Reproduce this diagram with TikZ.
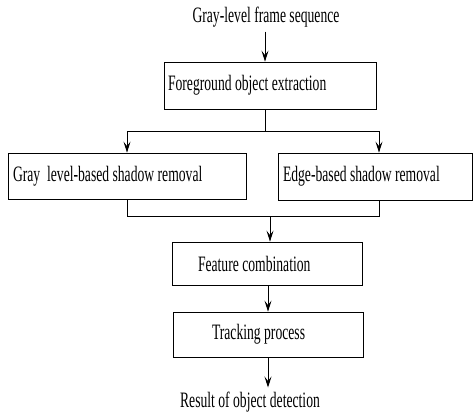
\documentclass[tikz,border=0pt]{standalone}
\usepackage{fontspec}
\setmainfont{Liberation Serif}[FakeStretch=0.62]
\usetikzlibrary{arrows.meta}
\begin{document}
\begin{tikzpicture}[x=1pt,y=-1pt,line width=0.8pt,
	font=\fontsize{22}{25}\selectfont,
	box/.style={draw,rectangle,align=flush left,inner ysep=0pt},
	lbl/.style={inner sep=4pt},
	arr/.style={-{Stealth[length=11pt,width=7pt,inset=4.5pt]}}]
	\useasboundingbox (0,0) rectangle (473,414);
	% input and output
	\node[lbl] (src) at (266,17) {Gray-level frame sequence};
	\node[lbl] (res) at (250,402) {Result of object detection};
	% processing steps
	\node[box,text width=204pt,inner xsep=4pt,minimum height=47pt] (fg) at (270,85.5) {Foreground object extraction};
	\node[box,text width=228pt,inner xsep=5pt,minimum height=46pt] (gray) at (127,176) {Gray~ level-based shadow removal};
	\node[box,text width=184pt,inner xsep=5pt,minimum height=47pt] (edge) at (375,176.5) {Edge-based shadow removal};
	\node[box,text width=138pt,inner xsep=26pt,minimum height=43pt] (feat) at (267,263.5) {Feature combination};
	\node[box,text width=112pt,inner xsep=39pt,minimum height=45pt] (track) at (268,334.5) {Tracking process};
	% branch and merge points
	\coordinate (split) at (265,131);
	\coordinate (join) at (270,216);
	\draw[arr] (src.south -| split) -- (fg.north -| split);
	\draw (fg.south -| split) -- (split);
	\draw[arr] (split) -| (gray.north);
	\draw[arr] (split) -| ([xshift=4pt]edge.north);
	\draw (gray.south) |- (join);
	\draw ([xshift=4pt]edge.south) |- (join);
	\draw[arr] (join) -- (join |- feat.north);
	\draw[arr] (feat.south -| track.north) -- (track.north);
	\draw[arr] (track.south) -- (track.south |- res.north);
\end{tikzpicture}
\end{document}
